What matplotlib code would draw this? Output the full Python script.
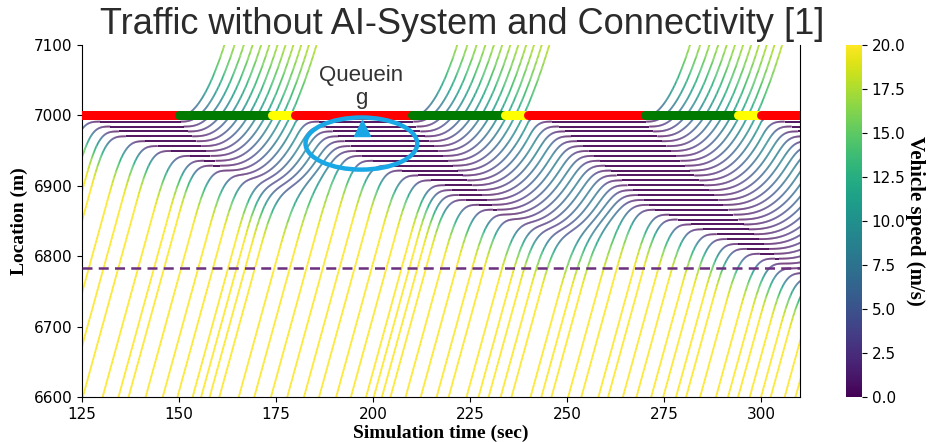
import numpy as np
import matplotlib
matplotlib.use("Agg")
import matplotlib.pyplot as plt
from matplotlib.collections import LineCollection
from matplotlib.patches import Ellipse
from matplotlib.colors import Normalize

# signal plan (s): green starts, then green / yellow length, rest is red
green_starts = [90, 150, 210, 270, 330]
green_len = 24
yellow_len = 6

# times the vehicles pass 6600 m (s)
arrivals = [102.0, 105.0, 108.0, 110.5, 112.6, 117.7, 121.5,
            125.3, 130.4, 134.5, 137.1, 141.5, 145.9, 149.7, 153.6, 155.8,
            158.0, 160.5, 165.5, 169.5, 173.8, 178.0, 182.3, 186.2, 190.6,
            194.4, 198.3, 200.3, 202.4, 204.6, 208.5, 212.4, 216.5, 219.6,
            224.2, 227.3, 229.9, 233.0, 235.8, 240.7, 243.5, 246.1, 250.4,
            253.8, 258.2, 260.7, 264.5, 268.0, 271.8, 274.9, 278.2, 280.8,
            284.4, 288.5, 291.6, 294.2, 297.2, 300.1, 302.6, 306.2, 309.0]

stop_line = 7000.0
detector = 6783.0
v_free = 20.0

# car-following (IDM) settings
v0, T, s0, a_max, b_comf, veh_len = 30.0, 1.2, 2.0, 1.5, 3.5, 5.0


def phase(t):
    for g in green_starts:
        if g <= t < g + green_len:
            return "G"
        if g + green_len <= t < g + green_len + yellow_len:
            return "Y"
    return "R"


def simulate():
    dt = 0.1
    n = len(arrivals)
    x = np.zeros(n)
    v = np.zeros(n)
    entered = np.zeros(n, bool)
    committed = np.zeros(n, bool)
    tr = [[] for _ in range(n)]
    last = "G"
    for t in np.arange(80.0, 312.0, dt):
        for i in range(n):
            if not entered[i] and t >= arrivals[i] - 10:
                x[i] = 6600 - v_free * (arrivals[i] - t)
                v[i] = v_free
                entered[i] = True
        ph = phase(t)
        if ph == "R" and last != "R":
            d = stop_line - x
            committed |= entered & (d < v ** 2 / 16.0 + 1.0)
        last = ph
        acc = np.zeros(n)
        for i in range(n):
            if not entered[i]:
                continue
            gap, dv = 1e9, 0.0
            if i > 0:
                gap = x[i - 1] - x[i] - veh_len
                dv = v[i] - v[i - 1]
            if ph == "R" and x[i] < stop_line and not committed[i]:
                sg = stop_line - x[i]
                if sg < gap:
                    gap, dv = sg, v[i]
            gap = max(gap, 0.1)
            s_star = s0 + max(0.0, v[i] * T + v[i] * dv / (2 * np.sqrt(a_max * b_comf)))
            acc[i] = a_max * (1 - (v[i] / v0) ** 4 - (s_star / gap) ** 2)
        v_new = np.clip(v + acc * dt, 0.0, v_free)
        x = np.where(entered, x + 0.5 * (v + v_new) * dt, x)
        v = np.where(entered, v_new, v)
        for i in range(n):
            if entered[i] and x[i] < 7150:
                tr[i].append((t, x[i], v[i]))
    return tr


tracks = simulate()

fig = plt.figure(figsize=(9.3, 4.42), dpi=100)
ax = fig.add_axes([0.0882, 0.1018, 0.7718, 0.7964])
cax = fig.add_axes([0.9097, 0.1018, 0.0172, 0.7964])

norm = Normalize(0, 20)
segs, cols = [], []
for tr in tracks:
    if len(tr) < 2:
        continue
    arr = np.array(tr)
    pts = arr[:, :2]
    segs.extend(np.stack([pts[:-1], pts[1:]], axis=1))
    cols.extend(0.5 * (arr[:-1, 2] + arr[1:, 2]))
lc = LineCollection(segs, cmap="viridis", norm=norm, linewidths=1.3, zorder=2)
lc.set_array(np.array(cols))
ax.add_collection(lc)

# signal bar at the stop line
bar = []
for g in green_starts:
    bar.append((g - 30, g, "#ff0000"))
    bar.append((g, g + green_len, "#007a00"))
    bar.append((g + green_len, g + green_len + yellow_len, "#ffff00"))
for s, e, c in bar:
    ax.plot([s, e], [stop_line, stop_line], color=c, lw=6.5,
            solid_capstyle="round", zorder=4)

ax.axhline(detector, color="#6b2f7f", lw=1.8, ls=(0, (4, 2.5)), zorder=3)

# queue annotation
ax.add_patch(Ellipse((197, 6960), 28.8, 74, fill=False, ec="#1aa7e6", lw=3.2, zorder=5))
ax.plot([197.2], [6982], marker="^", color="#1aa7e6", ms=11, zorder=6)
ax.text(197, 7040, "Queuein\ng", ha="center", va="center", fontsize=16,
        family="Liberation Sans", color="#333333", linespacing=1.1, zorder=6)

ax.set_xlim(125, 310)
ax.set_ylim(6600, 7100)
ax.set_xticks([125, 150, 175, 200, 225, 250, 275, 300])
ax.set_yticks([6600, 6700, 6800, 6900, 7000, 7100])
ax.tick_params(labelsize=11)
ax.spines["top"].set_visible(False)
ax.set_xlabel("Simulation time (sec)", family="Liberation Serif", weight="bold", fontsize=14, labelpad=2)
ax.set_ylabel("Location (m)", family="Liberation Serif", weight="bold", fontsize=14, labelpad=4)

sm = plt.cm.ScalarMappable(norm=norm, cmap="viridis")
cb = fig.colorbar(sm, cax=cax, ticks=np.arange(0, 20.1, 2.5))
cb.outline.set_visible(False)
cax.tick_params(labelsize=11)
cb.set_label("Vehicle speed (m/s)", family="Liberation Serif", weight="bold",
             fontsize=15, rotation=270, labelpad=14)

fig.text(0.497, 0.945, "Traffic without AI-System and Connectivity [1]",
         ha="center", va="center", fontsize=26, color="#2b2b2b",
         family="Liberation Sans")

fig.savefig("out.png", dpi=100)
